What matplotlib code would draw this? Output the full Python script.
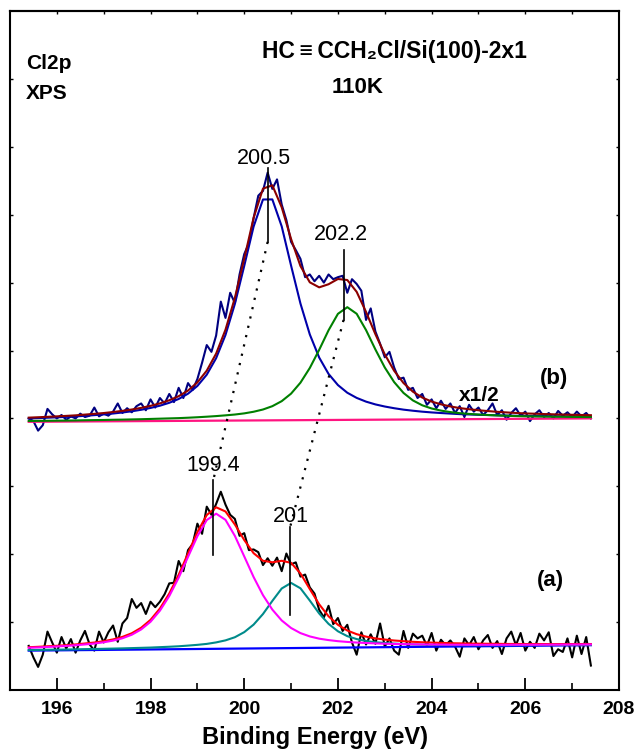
import numpy as np
import matplotlib
matplotlib.use("Agg")
import matplotlib.pyplot as plt

plt.rcParams['font.family'] = ['Liberation Sans', 'DejaVu Sans']

# ---------------- data ----------------
fit_energy = np.round(np.linspace(195.4, 207.4, 61), 2)
raw_energy = np.round(np.linspace(195.4, 207.4, 121), 2)
base_energy = [195.4, 207.4]

# spectrum (a)  (lower, black)
a_raw = [0.65, 0.48, 0.34, 0.52, 0.86, 0.70, 0.55, 0.78, 0.61, 0.75,
         0.55, 0.73, 0.87, 0.67, 0.58, 0.86, 0.70, 0.85, 0.95, 0.71,
         0.98, 1.06, 1.34, 1.21, 1.28, 1.12, 1.30, 1.22, 1.30, 1.41,
         1.57, 1.58, 1.90, 1.75, 2.06, 2.15, 2.45, 2.30, 2.70, 2.58,
         2.74, 2.92, 2.73, 2.58, 2.52, 2.27, 2.31, 2.06, 2.07, 2.03,
         1.84, 1.94, 1.83, 1.95, 1.75, 2.01, 1.85, 1.88, 1.67, 1.70,
         1.51, 1.42, 1.18, 1.07, 1.24, 0.97, 1.06, 0.87, 0.96, 0.70,
         0.52, 0.85, 0.67, 0.82, 0.68, 0.98, 0.64, 0.76, 0.58, 0.52,
         0.87, 0.62, 0.83, 0.76, 0.80, 0.65, 0.84, 0.58, 0.74, 0.66,
         0.73, 0.64, 0.49, 0.76, 0.66, 0.78, 0.60, 0.73, 0.81, 0.62,
         0.72, 0.53, 0.76, 0.86, 0.66, 0.84, 0.58, 0.71, 0.62, 0.83,
         0.73, 0.85, 0.50, 0.60, 0.56, 0.76, 0.48, 0.80, 0.53, 0.78,
         0.36]
a_background = [0.58, 0.66]
a_peak_199_4 = [0.622, 0.627, 0.634, 0.641, 0.649, 0.659, 0.671, 0.684, 0.703, 0.727,
                0.762, 0.814, 0.892, 1.005, 1.168, 1.384, 1.653, 1.960, 2.265, 2.503,
                2.597, 2.506, 2.270, 1.968, 1.664, 1.397, 1.184, 1.024, 0.913, 0.838,
                0.789, 0.756, 0.735, 0.719, 0.708, 0.699, 0.692, 0.686, 0.682, 0.678,
                0.676, 0.673, 0.671, 0.670, 0.669, 0.667, 0.667, 0.666, 0.666, 0.666,
                0.666, 0.666, 0.667, 0.667, 0.667, 0.668, 0.668, 0.669, 0.670, 0.670,
                0.671]
a_peak_201 = [0.588, 0.590, 0.593, 0.594, 0.596, 0.599, 0.602, 0.604, 0.607, 0.610,
              0.613, 0.617, 0.621, 0.625, 0.631, 0.637, 0.644, 0.654, 0.665, 0.679,
              0.701, 0.731, 0.777, 0.852, 0.963, 1.119, 1.312, 1.495, 1.577, 1.498,
              1.317, 1.127, 0.974, 0.865, 0.793, 0.750, 0.722, 0.703, 0.692, 0.683,
              0.677, 0.672, 0.668, 0.666, 0.664, 0.662, 0.662, 0.661, 0.660, 0.661,
              0.661, 0.660, 0.661, 0.661, 0.662, 0.663, 0.663, 0.664, 0.665, 0.666,
              0.666]
a_envelope = [0.630, 0.636, 0.644, 0.651, 0.660, 0.671, 0.685, 0.699, 0.719, 0.745,
              0.782, 0.836, 0.917, 1.033, 1.200, 1.421, 1.696, 2.011, 2.326, 2.577,
              2.691, 2.629, 2.438, 2.209, 2.015, 1.903, 1.881, 1.903, 1.873, 1.717,
              1.486, 1.262, 1.086, 0.960, 0.876, 0.822, 0.786, 0.760, 0.743, 0.729,
              0.719, 0.710, 0.703, 0.698, 0.694, 0.689, 0.687, 0.684, 0.682, 0.681,
              0.680, 0.678, 0.678, 0.677, 0.677, 0.677, 0.676, 0.677, 0.677, 0.677,
              0.677]

# spectrum (b)  (upper, navy, x1/2)
b_raw = [4.00, 3.96, 3.82, 3.90, 4.14, 4.06, 4.00, 4.05, 3.98, 4.03,
         4.00, 4.07, 4.02, 4.04, 4.16, 4.03, 4.07, 4.04, 4.10, 4.22,
         4.08, 4.15, 4.09, 4.18, 4.22, 4.12, 4.28, 4.16, 4.30, 4.22,
         4.36, 4.24, 4.45, 4.30, 4.52, 4.42, 4.58, 4.82, 5.08, 4.98,
         5.22, 5.72, 5.48, 5.85, 5.70, 6.12, 6.42, 6.58, 6.95, 7.28,
         7.35, 7.62, 7.38, 7.52, 7.15, 6.92, 6.60, 6.48, 6.35, 6.08,
         6.12, 6.02, 6.10, 6.00, 6.12, 6.05, 6.08, 6.10, 5.85, 6.05,
         5.98, 5.88, 5.45, 5.62, 5.28, 5.10, 4.90, 4.98, 4.75, 4.58,
         4.60, 4.42, 4.45, 4.30, 4.36, 4.20, 4.28, 4.15, 4.26, 4.14,
         4.22, 4.08, 4.18, 4.02, 4.20, 4.10, 4.16, 4.05, 4.12, 4.22,
         4.05, 4.12, 3.98, 4.08, 4.15, 4.04, 4.10, 3.96, 4.06, 4.12,
         4.02, 4.08, 4.00, 4.11, 4.04, 4.09, 4.02, 4.10, 4.03, 4.08,
         4.00]
b_background = [3.95, 4.00]
b_peak_200_5 = [3.999, 4.004, 4.010, 4.016, 4.022, 4.029, 4.038, 4.048, 4.059, 4.072,
                4.087, 4.105, 4.127, 4.154, 4.187, 4.230, 4.286, 4.364, 4.478, 4.644,
                4.887, 5.229, 5.686, 6.246, 6.825, 7.224, 7.225, 6.828, 6.250, 5.692,
                5.236, 4.896, 4.655, 4.491, 4.378, 4.302, 4.247, 4.206, 4.175, 4.150,
                4.129, 4.113, 4.099, 4.088, 4.079, 4.071, 4.063, 4.058, 4.053, 4.049,
                4.045, 4.042, 4.039, 4.036, 4.035, 4.033, 4.032, 4.030, 4.029, 4.028,
                4.027]
b_peak_202_2 = [3.962, 3.964, 3.965, 3.967, 3.968, 3.970, 3.973, 3.975, 3.977, 3.980,
                3.982, 3.985, 3.988, 3.992, 3.996, 4.000, 4.004, 4.010, 4.017, 4.025,
                4.034, 4.045, 4.057, 4.074, 4.098, 4.131, 4.180, 4.254, 4.365, 4.526,
                4.743, 5.010, 5.298, 5.540, 5.638, 5.541, 5.301, 5.015, 4.750, 4.535,
                4.375, 4.265, 4.193, 4.146, 4.115, 4.093, 4.077, 4.066, 4.057, 4.050,
                4.044, 4.039, 4.034, 4.031, 4.029, 4.027, 4.025, 4.024, 4.022, 4.021,
                4.020]
b_envelope = [4.011, 4.017, 4.023, 4.030, 4.037, 4.045, 4.056, 4.067, 4.079, 4.094,
              4.111, 4.131, 4.155, 4.185, 4.221, 4.267, 4.327, 4.410, 4.530, 4.703,
              4.954, 5.306, 5.775, 6.351, 6.953, 7.384, 7.433, 7.109, 6.642, 6.244,
              6.004, 5.930, 5.976, 6.053, 6.038, 5.864, 5.568, 5.240, 4.943, 4.702,
              4.521, 4.394, 4.307, 4.248, 4.207, 4.176, 4.152, 4.135, 4.120, 4.108,
              4.097, 4.088, 4.080, 4.073, 4.069, 4.064, 4.060, 4.056, 4.053, 4.050,
              4.047]

# peak markers: label, energy, bottom, top, label position
marker_labels = ['200.5', '202.2', '199.4', '201']
marker_energy = [200.5, 202.12, 199.34, 200.98]
marker_low = [6.60, 5.45, 1.99, 1.10]
marker_high = [7.69, 6.48, 3.09, 2.40]
marker_text_x = [200.43, 202.06, 199.34, 201.0]
marker_text_y = [7.83, 6.71, 3.30, 2.55]

x_major = [196, 198, 200, 202, 204, 206, 208]

# ---------------- figure ----------------
fig = plt.figure(figsize=(6.37, 7.5), dpi=100)
ax = fig.add_axes([10 / 637, 60 / 750, 609 / 637, 679 / 750])

lw = 1.5
# (b)
ax.plot(raw_energy, b_raw, color='#000080', lw=lw, zorder=2)
ax.plot(base_energy, b_background, color='#ff1480', lw=1.6, zorder=3)
ax.plot(fit_energy, b_peak_200_5, color='#0000aa', lw=lw, zorder=4)
ax.plot(fit_energy, b_peak_202_2, color='#008000', lw=lw, zorder=4)
ax.plot(fit_energy, b_envelope, color='#8b0000', lw=lw, zorder=5)
# (a)
ax.plot(raw_energy, a_raw, color='black', lw=lw, zorder=2)
ax.plot(base_energy, a_background, color='#0000ff', lw=1.6, zorder=3)
ax.plot(fit_energy, a_peak_201, color='#008b8b', lw=lw, zorder=4)
ax.plot(fit_energy, a_envelope, color='#ff0000', lw=lw, zorder=5)
ax.plot(fit_energy, a_peak_199_4, color='#ff00ff', lw=lw, zorder=6)

# peak markers and labels
for lab, e, lo, hi, tx, ty in zip(marker_labels, marker_energy, marker_low,
                                  marker_high, marker_text_x, marker_text_y):
    ax.plot([e, e], [lo, hi], color='black', lw=1.2, zorder=7)
    ax.text(tx, ty, lab, fontsize=15.5, ha='center', va='center', zorder=8)

# dotted connectors (b) -> (a)
ax.plot([marker_energy[0], marker_energy[2]], [marker_low[0], marker_high[2]],
        color='black', lw=1.6, linestyle=(0, (1, 3.3)), zorder=7)
ax.plot([marker_energy[1], marker_energy[3]], [marker_low[1], marker_high[3]],
        color='black', lw=1.6, linestyle=(0, (1, 3.3)), zorder=7)

# annotations
ax.text(205.02, 4.34, 'x1/2', fontsize=15, fontweight='bold', ha='center', va='center')
ax.text(206.62, 4.59, '(b)', fontsize=16, fontweight='bold', ha='center', va='center')
ax.text(206.53, 1.62, '(a)', fontsize=16, fontweight='bold', ha='center', va='center')
ax.text(0.026, 0.923, 'Cl2p', transform=ax.transAxes, fontsize=15, fontweight='bold',
        ha='left', va='center')
ax.text(0.026, 0.879, 'XPS', transform=ax.transAxes, fontsize=15, fontweight='bold',
        ha='left', va='center')
ax.text(0.632, 0.94, 'HC\u2009\u2261\u2009CCH\u2082Cl/Si(100)-2x1', transform=ax.transAxes,
        fontsize=16.5, fontweight='bold', ha='center', va='center')
ax.text(0.570, 0.887, '110K', transform=ax.transAxes, fontsize=16, fontweight='bold',
        ha='center', va='center')

# axes
ax.set_xlim(195, 208)
ax.set_ylim(0, 10)
ax.set_xticks(x_major)
ax.set_xticklabels([str(v) for v in x_major], fontweight='bold')
ax.set_xticks([197, 199, 201, 203, 205, 207], minor=True)
ax.tick_params(axis='x', which='major', direction='in', length=8.6, width=1.3,
               labelsize=14, pad=8, top=False)
ax.tick_params(axis='x', which='minor', direction='in', length=5, width=1.2, top=False)
ax.set_yticks(range(1, 10))
ax.set_yticklabels([])
ax.tick_params(axis='y', which='major', direction='in', length=2.5, width=1.0,
               left=True, right=True)
ax.set_yticks([], minor=True)
top = ax.secondary_xaxis('top')
top.set_xticks(range(196, 208))
top.tick_params(direction='in', length=2.5, width=1.0, labeltop=False)
top.set_xticklabels([])
for sp in ax.spines.values():
    sp.set_linewidth(1.5)
top.spines['top'].set_linewidth(1.5)
ax.set_xlabel('Binding Energy (eV)', fontsize=17, fontweight='bold', labelpad=6)

fig.savefig('out.png', dpi=100)
